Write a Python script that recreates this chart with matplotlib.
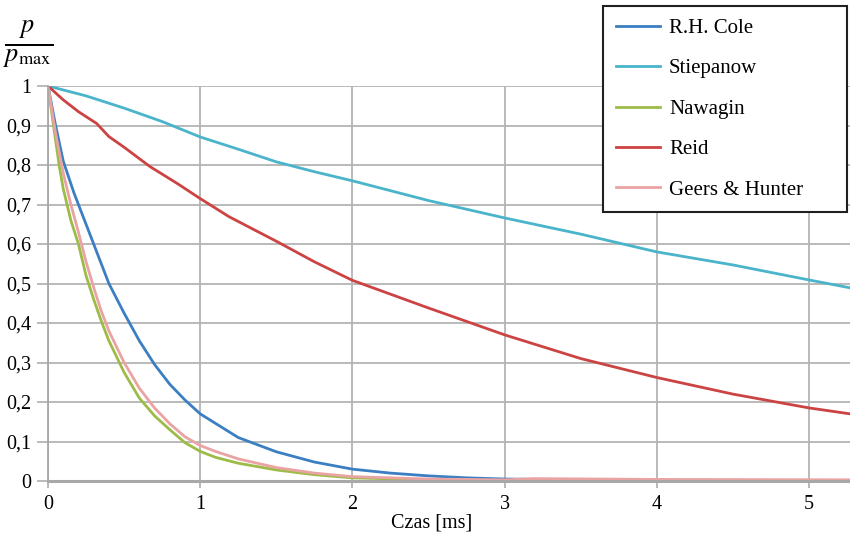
import numpy as np
from matplotlib import pyplot as plt

plt.rcParams['font.family'] = ['Liberation Serif', 'DejaVu Serif']
plt.rcParams['mathtext.fontset'] = 'stix'

# (czas w ms, p/pmax)
t_cole = [0, 0.05, 0.1, 0.17, 0.2, 0.3, 0.4, 0.5, 0.6, 0.7, 0.8, 0.9, 1.0, 1.25, 1.5, 1.75, 2.0, 2.25, 2.5, 2.75, 3.0, 3.5, 4.0, 4.5, 5.0, 5.27]
p_cole = [1, 0.9, 0.81, 0.73, 0.70, 0.60, 0.50, 0.425, 0.355, 0.295, 0.245, 0.205, 0.17, 0.11, 0.074, 0.048, 0.03, 0.02, 0.013, 0.008, 0.005, 0.003, 0.002, 0.001, 0.001, 0.001]

t_stiep = [0, 0.25, 0.5, 0.75, 1.0, 1.25, 1.5, 1.75, 2.0, 2.5, 3.0, 3.5, 4.0, 4.5, 5.0, 5.27]
p_stiep = [1, 0.975, 0.944, 0.91, 0.871, 0.84, 0.808, 0.783, 0.76, 0.71, 0.666, 0.625, 0.58, 0.547, 0.509, 0.489]

t_nawagin = [0, 0.036, 0.073, 0.1, 0.15, 0.2, 0.25, 0.3, 0.35, 0.4, 0.5, 0.6, 0.7, 0.8, 0.9, 1.0, 1.1, 1.25, 1.5, 1.75, 2.0, 2.5, 3.0, 4.0, 5.27]
p_nawagin = [1, 0.9, 0.8, 0.74, 0.66, 0.6, 0.52, 0.46, 0.405, 0.355, 0.275, 0.21, 0.165, 0.13, 0.097, 0.075, 0.06, 0.045, 0.028, 0.016, 0.008, 0.003, 0.001, 0.0005, 0.0]

t_reid = [0, 0.1, 0.2, 0.32, 0.4, 0.5, 0.67, 0.85, 1.0, 1.19, 1.5, 1.75, 2.0, 2.5, 3.0, 3.5, 4.0, 4.5, 5.0, 5.27]
p_reid = [1, 0.965, 0.935, 0.905, 0.872, 0.845, 0.796, 0.753, 0.715, 0.669, 0.607, 0.555, 0.508, 0.438, 0.37, 0.31, 0.262, 0.22, 0.185, 0.17]

t_geers = [0, 0.05, 0.1, 0.15, 0.2, 0.25, 0.3, 0.35, 0.4, 0.5, 0.6, 0.7, 0.8, 0.9, 1.0, 1.1, 1.25, 1.5, 1.75, 2.0, 2.5, 3.0, 3.2, 4.0, 5.27]
p_geers = [1, 0.88, 0.78, 0.70, 0.63, 0.555, 0.49, 0.43, 0.38, 0.30, 0.235, 0.185, 0.145, 0.112, 0.09, 0.075, 0.056, 0.034, 0.02, 0.011, 0.005, 0.003, 0.006, 0.004, 0.003]

x_ticks = [0, 1, 2, 3, 4, 5]
y_ticks = [0, 0.1, 0.2, 0.3, 0.4, 0.5, 0.6, 0.7, 0.8, 0.9, 1]
y_labels = ['0', '0,1', '0,2', '0,3', '0,4', '0,5', '0,6', '0,7', '0,8', '0,9', '1']

fig = plt.figure(figsize=(8.5, 5.38), dpi=100)
ax = fig.add_axes([48/850, 57/538, 802/850, 395/538])

ax.plot(t_cole, p_cole, c='#3b7fc2', lw=2, label='R.H. Cole')
ax.plot(t_stiep, p_stiep, c='#4ab4cb', lw=2, label='Stiepanow')
ax.plot(t_nawagin, p_nawagin, c='#9dbb47', lw=2, label='Nawagin')
ax.plot(t_reid, p_reid, c='#cc4343', lw=2, label='Reid')
# spacje na końcu poszerzają ramkę legendy jak w oryginale
ax.plot(t_geers, p_geers, c='#eaa3a3', lw=2, label='Geers & Hunter' + '\u00a0' * 6)

ax.set_xlim(0, 802/152.2)
ax.set_ylim(0, 1)
ax.set_xticks(x_ticks)
ax.set_yticks(y_ticks)
ax.set_yticklabels(y_labels)
ax.grid(color='#b4b4b4', lw=1.3)
ax.set_axisbelow(True)
for s in ['top', 'right']:
    ax.spines[s].set_visible(False)
ax.spines['left'].set_color('#a8a8a8')
ax.spines['left'].set_linewidth(1.3)
ax.spines['bottom'].set_color('#a8a8a8')
ax.spines['bottom'].set_linewidth(2.2)
ax.tick_params(axis='y', length=8, width=1.3, color='#b4b4b4', labelsize=14.5, pad=4)
ax.tick_params(axis='x', length=5, width=1.3, color='#b4b4b4', labelsize=14.5, pad=5)

fig.text(432/850, 15/538, 'Czas [ms]', ha='center', va='center', fontsize=14.5)
fig.text(28/850, 494/538, r'$\frac{p}{p_{\mathrm{max}}}$', ha='center', va='center', fontsize=27)

leg = fig.legend(loc='upper right', bbox_to_anchor=(847/850, 532/538), fontsize=15,
                 fancybox=False, edgecolor='#202020', framealpha=1, handlelength=2.1,
                 labelspacing=1.0, borderpad=0.6, handletextpad=0.45, borderaxespad=0)
leg.get_frame().set_linewidth(1.5)

plt.savefig('out.png', dpi=100)
